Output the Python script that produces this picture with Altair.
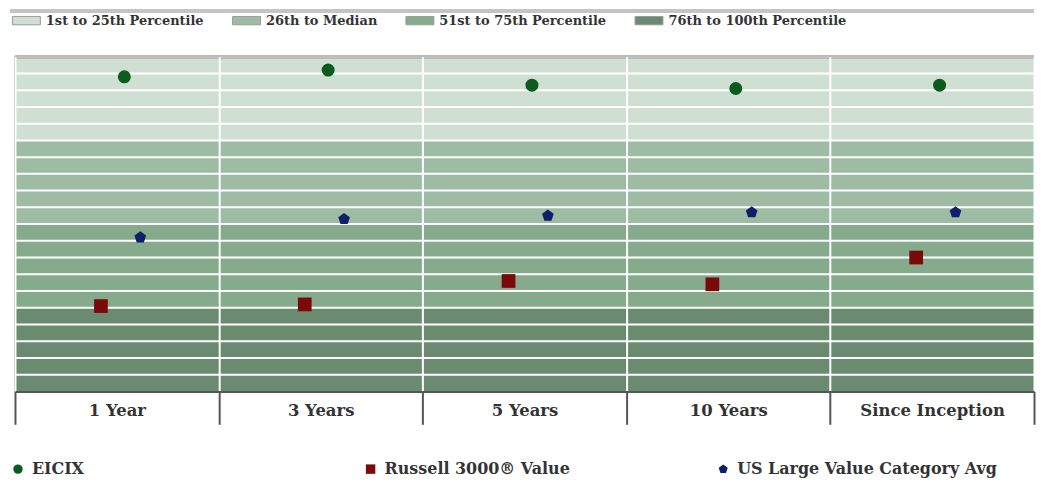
import altair as alt
import pandas as pd

categories = ["1 Year", "3 Years", "5 Years", "10 Years", "Since Inception"]
eicix = [6, 4, 8.5, 9.5, 8.5]
russell = [74.5, 74, 67, 68, 60]
cat_avg = [54, 48.5, 47.5, 46.5, 46.5]
series_names = ["EICIX", "Russell 3000® Value", "US Large Value Category Avg"]
series_colors = ["#0b5a1e", "#7a0a0a", "#0f1f6b"]

band_labels = ["1st to 25th Percentile", "26th to Median", "51st to 75th Percentile", "76th to 100th Percentile"]
band_lo = [0, 25, 50, 75]
band_hi = [25, 50, 75, 100]
band_colors = ["#cfe0d3", "#9dbca3", "#86aa8c", "#6b8b71"]
grid_levels = list(range(5, 100, 5))

FONT = "DejaVu Serif"
PENTAGON = "M0,-1L0.951,-0.309L0.588,0.809L-0.588,0.809L-0.951,-0.309Z"
WIDE_RECT = "M-2,-0.6H2V0.6H-2Z"

bands = pd.DataFrame({"band": band_labels, "lo": band_lo, "hi": band_hi})
grid = pd.DataFrame({"g": grid_levels})
pts = pd.DataFrame({
    "cat": categories * 3,
    "series": [series_names[0]] * 5 + [series_names[1]] * 5 + [series_names[2]] * 5,
    "rank": eicix + russell + cat_avg,
})

yscale = alt.Scale(domain=[0, 100], reverse=True, nice=False, zero=False)
xscale = alt.Scale(type="band", domain=categories, paddingInner=0, paddingOuter=0)

rect = alt.Chart(bands).mark_rect().encode(
    y=alt.Y("lo:Q", scale=yscale, axis=alt.Axis(title=None, labels=False, ticks=False, grid=False,
                                                 domainColor="#555", domainWidth=2)),
    y2="hi:Q",
    fill=alt.Fill("band:N", scale=alt.Scale(domain=band_labels, range=band_colors),
                  legend=alt.Legend(title=None, orient="none", legendX=4, legendY=-44,
                                    direction="horizontal", symbolType=WIDE_RECT, symbolSize=196,
                                    symbolStrokeColor="#9a9a9a", symbolStrokeWidth=1,
                                    labelFont=FONT, labelFontSize=13, labelFontWeight="bold",
                                    labelColor="#333", labelLimit=400,
                                    columnPadding=26, labelOffset=12)),
)

gridrules = alt.Chart(grid).mark_rule(color="white", strokeWidth=2).encode(
    y=alt.Y("g:Q", scale=yscale)
)

toprule = alt.Chart(grid).mark_rule(color="#bdbdbd", strokeWidth=3).encode(
    y=alt.datum(0, scale=yscale)
)

sepline = alt.Chart(grid).mark_rule(color="#c4c4c4", strokeWidth=3).encode(
    x=alt.value(-5), x2=alt.value(1023), y=alt.value(-46)
)

xaxis = alt.Axis(title=None, labelAngle=0, tickBand="extent", tickSize=33, tickColor="#555",
                 tickWidth=2, domainColor="#555", domainWidth=2, grid=True, gridColor="white",
                 gridWidth=2, labelFont=FONT, labelFontSize=16.5, labelFontWeight="bold",
                 labelColor="#333", labelPadding=-22, zindex=1)

color_enc = alt.Color("series:N", scale=alt.Scale(domain=series_names, range=series_colors),
                      legend=alt.Legend(title=None, orient="none", legendX=-5, legendY=406,
                                        direction="horizontal", columns=3, gridAlign="all",
                                        columnPadding=71, symbolSize=90, labelFont=FONT,
                                        labelFontSize=16, labelFontWeight="bold", labelLimit=500,
                                        labelColor="#333", labelOffset=6))
shape_enc = alt.Shape("series:N", scale=alt.Scale(domain=series_names,
                                                  range=["circle", "square", PENTAGON]))

def layer(name, offset, size):
    return alt.Chart(pts).transform_filter(alt.datum.series == name).mark_point(
        filled=True, opacity=1, size=size, xOffset=offset
    ).encode(
        x=alt.X("cat:N", scale=xscale, axis=xaxis, sort=categories, bandPosition=0.5),
        y=alt.Y("rank:Q", scale=yscale),
        color=color_enc,
        shape=shape_enc,
    )

chart = alt.layer(
    rect, gridrules, toprule, sepline,
    layer(series_names[0], 7.5, 170),
    layer(series_names[1], -16, 190),
    layer(series_names[2], 23.5, 150),
).properties(
    width=1023, height=336,
    padding={"left": 0, "top": 0, "right": 0, "bottom": 0},
).configure_view(stroke=None)

chart.save("out.html", embed_options={"renderer": "svg", "actions": False})
